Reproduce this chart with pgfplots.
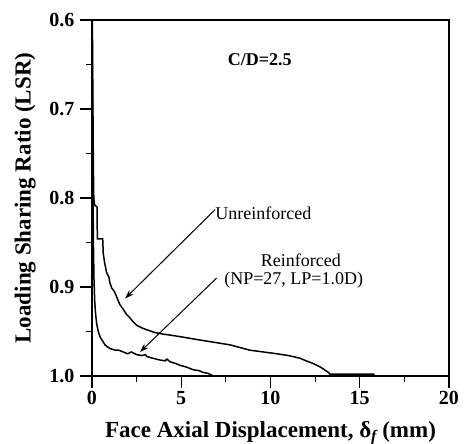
\documentclass[border=0pt]{standalone}
\usepackage{fontspec}
\setmainfont{Liberation Serif}
\usepackage{pgfplots}
\pgfplotsset{compat=1.18}
\usetikzlibrary{arrows.meta}
\begin{document}
\begin{tikzpicture}
\useasboundingbox (-92pt,-68pt) rectangle (377pt,376pt);
\begin{axis}[
  at={(0,0)}, anchor=south west,
  scale only axis, width=357pt, height=356pt,
  xmin=0, xmax=20, ymin=0.6, ymax=1.0,
  y dir=reverse,
  xtick={0,5,10,15,20}, ytick={0.6,0.7,0.8,0.9,1.0},
  minor x tick num=1, minor y tick num=1,
  xtick pos=left, ytick pos=left,
  tick align=outside,
  major tick length=12pt, minor tick length=6pt,
  every tick/.style={black, line width=1.2pt},
  axis line style={line width=1.6pt},
  /pgf/number format/assume math mode=true,
  yticklabel style={/pgf/number format/fixed, /pgf/number format/fixed zerofill, /pgf/number format/precision=1, xshift=-2pt},
  ticklabel style={font=\bfseries\fontsize{20}{20}\selectfont},
  xlabel={Face Axial Displacement, δ\textsubscript{\textit{f}}\,(mm)},
  ylabel={Loading Sharing Ratio (LSR)},
  label style={font=\bfseries\fontsize{23}{23}\selectfont},
  xlabel style={yshift=-10pt},
  ylabel style={yshift=7pt},
]
\addplot[black, line width=1.5pt] coordinates {
(0.02,0.60) (0.04,0.66) (0.06,0.72) (0.08,0.77) (0.10,0.80) (0.15,0.808)
(0.28,0.810) (0.30,0.846) (0.60,0.846) (0.63,0.862) (0.70,0.872) (0.82,0.884)
(0.95,0.889) (1.0,0.895) (1.1,0.901) (1.25,0.905) (1.38,0.911) (1.5,0.917)
(1.57,0.920) (1.75,0.925) (1.94,0.931) (2.1,0.934) (2.3,0.939) (2.5,0.943)
(2.8,0.946) (3.06,0.948) (3.5,0.951) (4.0,0.953) (4.37,0.954) (5.0,0.956)
(5.87,0.959) (6.8,0.962) (7.73,0.965) (8.85,0.971) (9.6,0.973) (10.35,0.975)
(11.0,0.977) (11.65,0.980) (12.0,0.983) (12.4,0.986) (12.8,0.990) (13.25,0.996)
(13.33,0.998) (15.77,0.998) (15.85,1.0)
};
\addplot[black, line width=1.5pt] coordinates {
(0.01,0.60) (0.03,0.70) (0.05,0.78) (0.08,0.85) (0.11,0.89) (0.15,0.915)
(0.2,0.93) (0.26,0.941) (0.35,0.95) (0.45,0.956) (0.6,0.961) (0.73,0.965)
(0.85,0.967) (1.0,0.969) (1.3,0.971) (1.5,0.971) (1.75,0.973) (2.0,0.975)
(2.2,0.973) (2.5,0.976) (2.8,0.977) (3.0,0.976) (3.06,0.978) (3.4,0.980)
(3.8,0.982) (4.1,0.983) (4.2,0.981) (4.37,0.984) (4.7,0.986) (4.93,0.988)
(5.3,0.990) (5.67,0.993) (6.0,0.994) (6.23,0.996) (6.5,0.997) (6.7,0.999) (6.8,1.0)
};
\node[font=\bfseries\fontsize{18}{18}\selectfont] at (axis cs:9.4,0.645) {C/D=2.5};
\node[font=\fontsize{18}{18}\selectfont] at (axis cs:9.6,0.817) {Unreinforced};
\node[font=\fontsize{18}{18}\selectfont] at (axis cs:11.7,0.870) {Reinforced};
\node[font=\fontsize{18}{18}\selectfont] at (axis cs:11.3,0.892) {(NP=27, LP=1.0D)};
\draw[-{Stealth[length=9pt,width=6pt]}, line width=1pt] (axis cs:6.9,0.813) -- (axis cs:1.85,0.913);
\draw[-{Stealth[length=9pt,width=6pt]}, line width=1pt] (axis cs:6.98,0.890) -- (axis cs:2.69,0.973);
\end{axis}
\end{tikzpicture}
\end{document}
